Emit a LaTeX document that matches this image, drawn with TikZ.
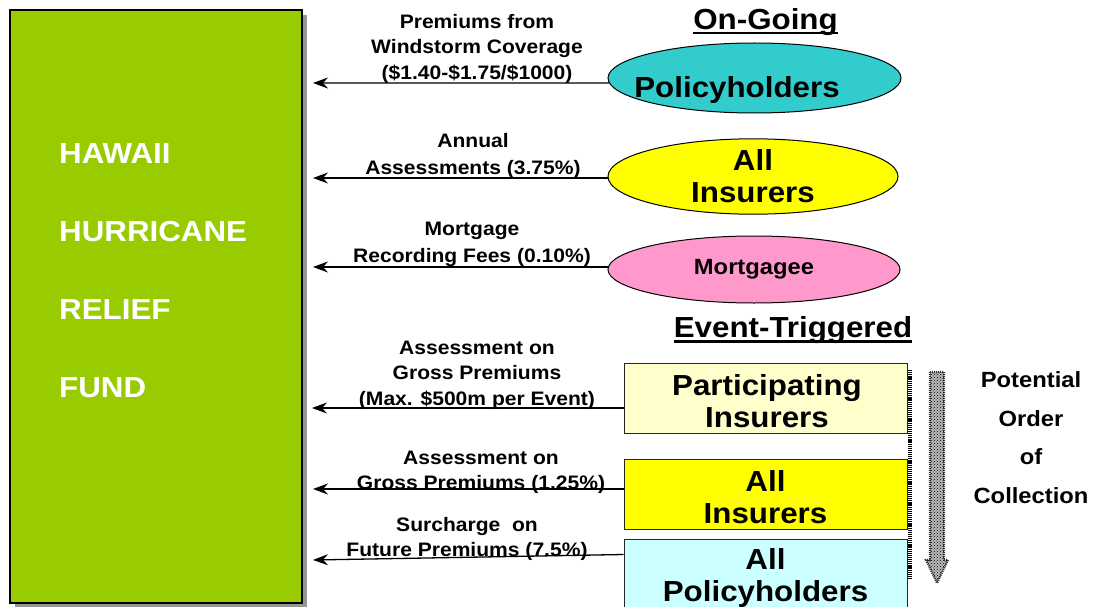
\documentclass[tikz,border=0pt]{standalone}
\usepackage{fontspec}
\setmainfont{Liberation Sans}[FakeStretch=1.08]
\usetikzlibrary{arrows.meta,shapes.geometric,patterns,calc}
\definecolor{fundgreen}{HTML}{99CC00}
\definecolor{shadowgray}{HTML}{969696}
\definecolor{ellcyan}{HTML}{33CCCC}
\definecolor{ellyellow}{HTML}{FFFF00}
\definecolor{ellpink}{HTML}{FF99CC}
\definecolor{boxlightyellow}{HTML}{FFFFCC}
\definecolor{boxlightcyan}{HTML}{CCFFFF}
\tikzset{
  lab/.style={font=\bfseries\fontsize{19.5}{25.5}\selectfont, align=center, inner sep=0pt},
  big/.style={font=\bfseries\fontsize{29}{32}\selectfont, align=center, inner sep=0pt},
  ell/.style={ellipse, draw=black, line width=1pt, inner sep=0pt},
  srcbox/.style={rectangle, draw=black!85, line width=1pt, inner sep=0pt, minimum width=283},
  arr/.style={line width=1.3pt, -{Stealth[length=15pt,width=11pt,inset=5pt]}},
  title/.style={font=\bfseries\fontsize{29}{32}\selectfont, inner sep=0pt, anchor=base},
}
\begin{document}
\begin{tikzpicture}[x=1pt,y=-1pt]
\useasboundingbox (0,0) rectangle (1097,607);
\clip (0,0) rectangle (1097,607);

% fund box with shadow
\fill[shadowgray] (15,15) rectangle (307,608);
\node[draw=black, line width=1.3pt, fill=fundgreen, minimum width=292, minimum height=593, inner sep=0pt] (fund) at (156,306.5) {};
\node[anchor=west, inner sep=0pt, text=white, align=left, font=\bfseries\fontsize{29}{78}\selectfont] (fundtext) at (59,270.5) {HAWAII\\HURRICANE\\RELIEF\\FUND};

% titles
\node[title] (ongoing) at (765.5,30) {On-Going};
\draw[line width=2pt] ($(ongoing.base west)+(0,3.5)$) -- ($(ongoing.base east)+(0,3.5)$);
\node[title] (event) at (793,337) {Event-Triggered};
\draw[line width=2.3pt] ($(event.base west)+(0,4.5)$) -- ($(event.base east)+(0,4.5)$);

% on-going sources
\node[ell, fill=ellcyan, minimum width=293, minimum height=70] (pol) at (754.5,78) {};
\node[big] (poltext) at (737,90) {Policyholders};
\node[ell, fill=ellyellow, minimum width=290, minimum height=75, big] (ins) at (753,176.5) {All\\Insurers};
\node[ell, fill=ellpink, minimum width=292, minimum height=67, font=\bfseries\fontsize{22}{26}\selectfont] (mort) at (754,269.5) {Mortgagee};

% event-triggered sources
\draw[line width=4pt, dash pattern=on 1.2pt off 0.9pt] (910,370) -- (910,578);
\node[srcbox, fill=boxlightyellow, minimum height=70] (pi) at (765.5,398) {};
\node[big] (pitext) at (767,401) {Participating\\Insurers};
\node[srcbox, fill=ellyellow, minimum height=70] (ai) at (765.5,494) {};
\node[big] (aitext) at (765.5,497) {All\\Insurers};
\node[srcbox, fill=boxlightcyan, minimum height=72] (ap) at (765.5,575) {};
\node[big] (aptext) at (765.5,578) {All\\Policyholders};

% order arrow
\draw[black!80, line width=2.2pt, dash pattern=on 1pt off 1pt, fill=gray!55, postaction={pattern=crosshatch dots}]
  (930,372) -- (944,372) -- (944,560) -- (948,560) -- (937,583) -- (926,560) -- (930,560) -- cycle;
\node[font=\bfseries\fontsize{22}{38.5}\selectfont, align=center, inner sep=0pt] (order) at (1031,437.5) {Potential\\Order\\of\\Collection};

% arrow end points
\coordinate (e1) at (313,83);
\coordinate (e2) at (313,178);
\coordinate (e3) at (313,267);
\coordinate (e4) at (312,408);
\coordinate (e5) at (313,489);
\coordinate (e6) at (313,560);

\draw[arr] (pol.182) -- (e1);
\draw[arr] (ins.west |- e2) -- (e2);
\draw[arr] (mort.west |- e3) -- (e3);
\draw[arr] ($(pi.west)+(0,10)$) -- (e4);
\draw[arr] ($(ai.west)+(0,-5)$) -- (e5);
\draw[arr] ($(ap.north west)+(0,16)$) -- (e6);

% labels
\node[lab] (l1) at (477,48.5) {Premiums from\\Windstorm Coverage\\(\$1.40-\$1.75/\$1000)};
\node[lab, font=\bfseries\fontsize{19.5}{27}\selectfont] (l2) at (473,156) {Annual\\Assessments (3.75\%)};
\node[lab, font=\bfseries\fontsize{19.5}{27}\selectfont] (l3) at (472,244.5) {Mortgage\\Recording Fees (0.10\%)};
\node[lab] (l4) at (477,375) {Assessment on\\Gross Premiums\\(Max. \$500m per Event)};
\node[lab, font=\bfseries\fontsize{19.5}{25}\selectfont] (l5) at (481,472) {Assessment on\\Gross Premiums (1.25\%)};
\node[lab, font=\bfseries\fontsize{19.5}{25}\selectfont] (l6) at (467,539) {Surcharge\ \ on\\Future Premiums (7.5\%)};
\end{tikzpicture}
\end{document}
